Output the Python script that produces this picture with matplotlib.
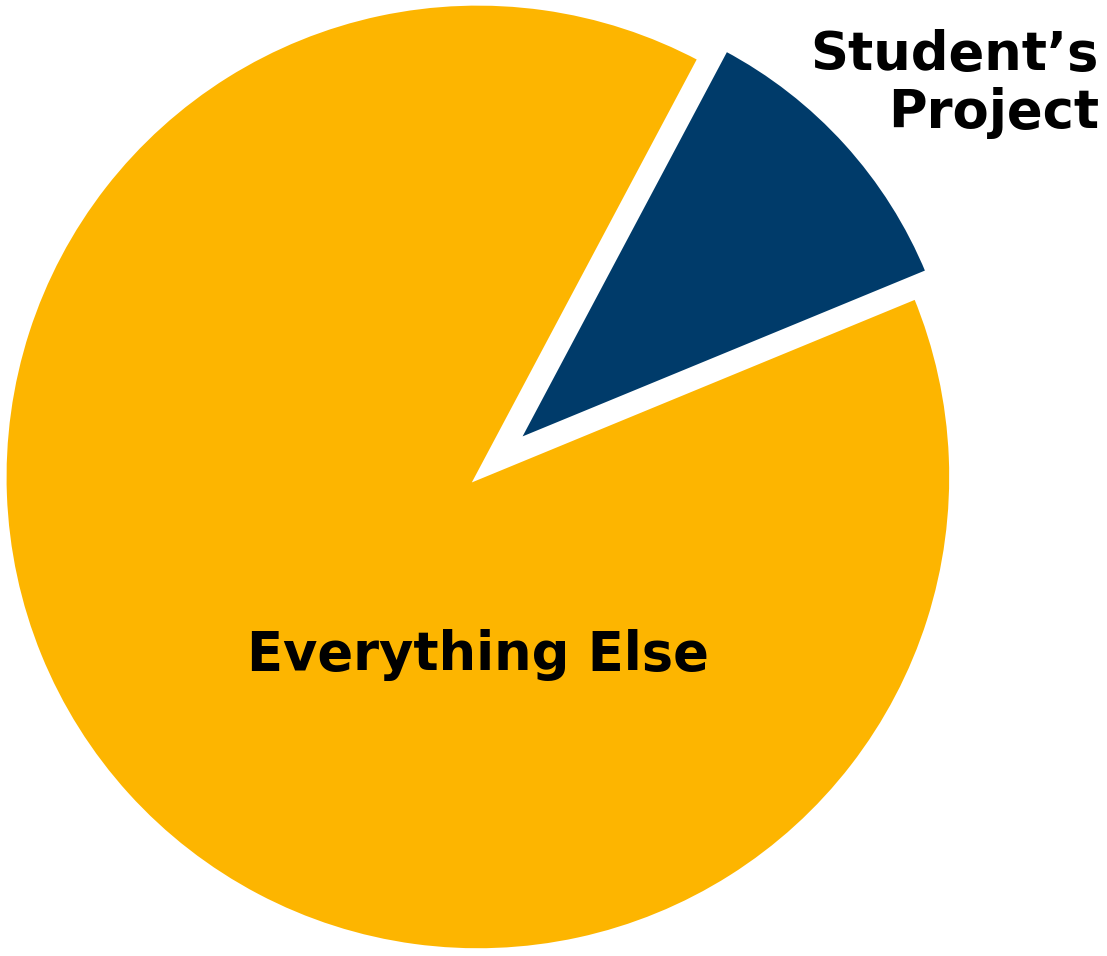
import matplotlib.pyplot as plt

# slice shares (percent)
labels = ["Everything Else", "Student\u2019s\nProject"]
shares = [89, 11]
colors = ["#FDB500", "#003B6A"]
explode = [0, 0.11]

fig = plt.figure(figsize=(11.07, 9.56), dpi=100)
ax = fig.add_axes([0, 0, 1, 1])

wedges, _ = ax.pie(shares, colors=colors, explode=explode, startangle=62,
                   radius=1.0, wedgeprops=dict(edgecolor="white", linewidth=4))
# the highlighted slice is drawn a little smaller than the main disc
wedges[1].set_radius(0.94)

ax.set_xlim(-1.008, 1.327)
ax.set_ylim(-1.0105, 1.006)
ax.set_aspect("auto")
ax.axis("off")

ax.text(0, -0.375, labels[0], ha="center", va="center",
        fontsize=38, fontweight="bold", color="black")
ax.text(1.31, 0.829, labels[1], ha="right", va="center", multialignment="right",
        fontsize=38, fontweight="bold", color="black", linespacing=1.15)

fig.savefig("out.png", dpi=100, facecolor="white")
